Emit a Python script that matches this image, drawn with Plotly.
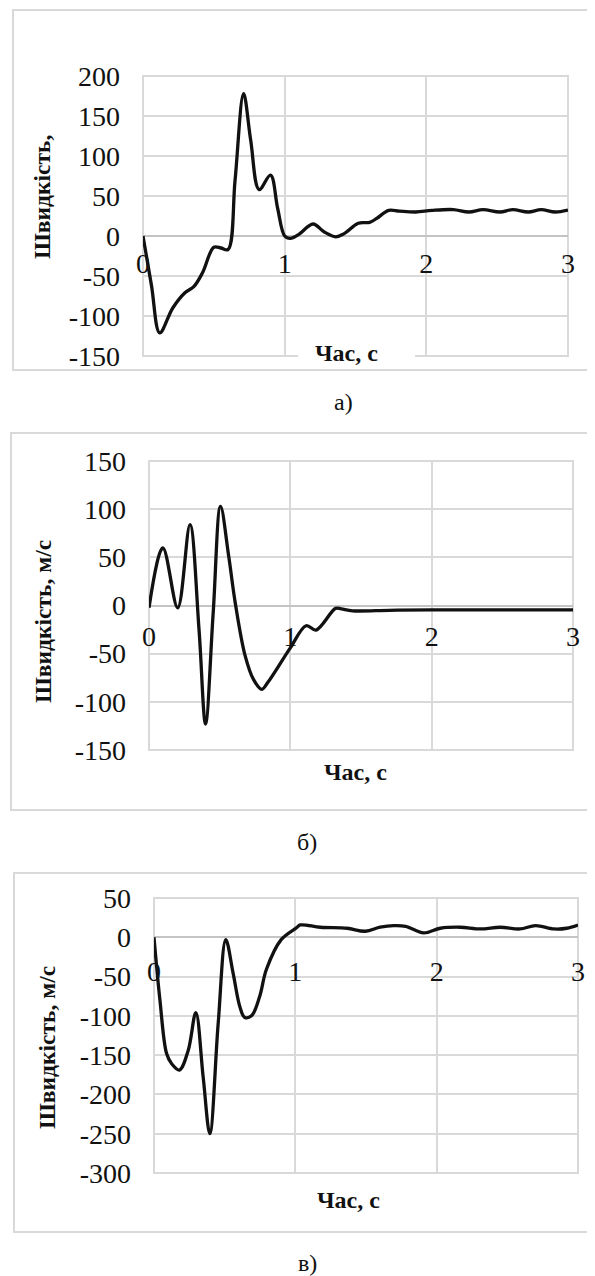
import plotly.graph_objects as go

# The page body adds an 8 px margin, so the figure is sized and placed to fit the window.
W0, H0 = 595, 1276
OFF = 8
W, H = W0 - OFF, H0 - OFF

# ---------------- data ----------------
# Panel а)
t_a = [0.00, 0.06, 0.118, 0.21, 0.296, 0.36, 0.42, 0.50, 0.55, 0.60, 0.65, 0.71, 0.76, 0.82,
       0.90, 0.95, 1.00, 1.04, 1.10, 1.20, 1.28, 1.36, 1.42, 1.52, 1.60, 1.65, 1.735, 1.81,
       1.925, 2.04, 2.19, 2.30, 2.40, 2.52, 2.61, 2.72, 2.81, 2.91, 3.00]
v_a = [0, -62, -121, -90, -71, -63, -46, -14, -15, -17, 70, 178, 120, 58,
       76, 35, 0, -3, 2, 15, 5, -1, 3, 16, 17, 22, 32, 31,
       30, 32, 33, 30, 33, 30, 33, 30, 33, 30, 32.5]

# Panel б)
t_b = [0.00, 0.098, 0.203, 0.29, 0.354, 0.40, 0.454, 0.506, 0.564, 0.61, 0.68, 0.74, 0.797,
       0.84, 1.00, 1.112, 1.182, 1.32, 1.36, 1.44, 1.70, 2.00, 2.50, 3.00]
v_b = [-2.4, 59.7, -2.4, 84, -25, -123, -8, 103, 51, 3, -52, -77, -87,
       -80, -44, -21, -25.5, -3, -3.5, -5.5, -5, -4.5, -4.5, -4.5]

# Panel в)
t_c = [0.00, 0.042, 0.089, 0.125, 0.18, 0.242, 0.296, 0.348, 0.395, 0.454, 0.508, 0.56, 0.607,
       0.642, 0.69, 0.748, 0.795, 0.90, 1.007, 1.035, 1.177, 1.366, 1.495, 1.60, 1.696, 1.78,
       1.908, 2.026, 2.167, 2.31, 2.45, 2.59, 2.70, 2.83, 2.92, 3.00]
v_c = [0, -80, -148, -161, -169, -144, -96, -178, -250, -110, -3, -46, -88,
       -102, -100, -75, -41, -3, 12, 15.7, 12.8, 11.5, 7.7, 12.8, 14.9, 14,
       5.5, 11.5, 12.8, 10.6, 12.8, 10.6, 14.9, 10.6, 11.5, 15.7]

x_ticks = [0, 1, 2, 3]
y_ticks_a = [-150, -100, -50, 0, 50, 100, 150, 200]
y_ticks_b = [-150, -100, -50, 0, 50, 100, 150]
y_ticks_c = [-300, -250, -200, -150, -100, -50, 0, 50]

x_title = "Час, с"
y_titles = ["Швидкість,", "Швидкість, м/с", "Швидкість, м/с"]
captions = ["а)", "б)", "в)"]

# ---------------- layout helpers (window pixels -> paper) ----------------
def px(x):
    return (x - OFF) / W

def py(y):
    return 1 - (y - OFF) / H

SERIF = "Liberation Serif, Times New Roman, serif"
GRID = "#d9d9d9"

panels = [
    dict(t=t_a, v=v_a, yt=y_ticks_a, box=(143, 568, 76, 356), frame=(13, 10, 370),
         xt=(346, 353), yti=(42, 197), cap=(343, 402), cover=(298, 415, 337, 368), xstand=8),
    dict(t=t_b, v=v_b, yt=y_ticks_b, box=(149, 573, 461, 750), frame=(11, 433, 810),
         xt=(355, 772), yti=(43, 622), cap=(307, 842), cover=None, xstand=11),
    dict(t=t_c, v=v_c, yt=y_ticks_c, box=(154, 578, 898, 1173), frame=(14, 873, 1232),
         xt=(348, 1200), yti=(47, 1048), cap=(307, 1263), cover=None, xstand=15),
]

fig = go.Figure()
shapes = []
annotations = []

for i, p in enumerate(panels, start=1):
    sfx = "" if i == 1 else str(i)
    xl, xr, yt, yb = p["box"]
    ymin, ymax = min(p["yt"]), max(p["yt"])
    zero_px = yt + (ymax - 0) / (ymax - ymin) * (yb - yt)

    fig.add_trace(go.Scatter(
        x=p["t"], y=p["v"], mode="lines",
        line=dict(color="#111111", width=3.3, shape="spline", smoothing=1.0),
        xaxis="x" + sfx, yaxis="y" + sfx, showlegend=False, hoverinfo="skip"))

    fig.layout["xaxis" + sfx] = dict(
        domain=[px(xl), px(xr)], range=[0, 3], tickvals=x_ticks,
        ticktext=[str(v) for v in x_ticks],
        anchor="free", position=py(zero_px), showline=False, ticks="",
        showgrid=True, gridcolor=GRID, gridwidth=2, zeroline=False, automargin=False,
        tickfont=dict(family=SERIF, size=28, color="#111111"),
        ticklabelstandoff=p["xstand"], fixedrange=True)
    fig.layout["yaxis" + sfx] = dict(
        domain=[py(yb), py(yt)], range=[ymin, ymax], tickvals=p["yt"],
        ticktext=[str(v) for v in p["yt"]],
        anchor="x" + sfx, showline=False, ticks="", automargin=False,
        showgrid=True, gridcolor=GRID, gridwidth=2,
        zeroline=True, zerolinecolor="#c4c4c4", zerolinewidth=2,
        tickfont=dict(family=SERIF, size=28, color="#111111"),
        ticklabelstandoff=22, fixedrange=True)

    # plot-area border (Excel shows edge gridlines all round)
    shapes.append(dict(type="rect", xref="x" + sfx + " domain", yref="y" + sfx + " domain",
                       x0=0, x1=1, y0=0, y1=1, line=dict(color=GRID, width=2),
                       fillcolor="rgba(0,0,0,0)", layer="below"))

    fl, ftop, fbot = p["frame"]
    shapes.append(dict(type="rect", xref="paper", yref="paper",
                       x0=px(fl), x1=1.05, y0=py(fbot), y1=py(ftop),
                       line=dict(color=GRID, width=2), fillcolor="rgba(0,0,0,0)",
                       layer="below"))
    if p["cover"]:
        cx0, cx1, cy0, cy1 = p["cover"]
        shapes.append(dict(type="rect", xref="paper", yref="paper",
                           x0=px(cx0), x1=px(cx1), y0=py(cy1), y1=py(cy0),
                           line=dict(width=0), fillcolor="white", layer="above"))

    annotations.append(dict(text="<b>" + x_title + "</b>", x=px(p["xt"][0]), y=py(p["xt"][1]),
                            xref="paper", yref="paper", showarrow=False,
                            xanchor="center", yanchor="middle",
                            font=dict(family=SERIF, size=24, color="#111111")))
    annotations.append(dict(text="<b>" + y_titles[i - 1] + "</b>", x=px(p["yti"][0]),
                            y=py(p["yti"][1]), xref="paper", yref="paper", showarrow=False,
                            textangle=-90, xanchor="center", yanchor="middle",
                            font=dict(family=SERIF, size=23.5, color="#111111")))
    annotations.append(dict(text=captions[i - 1], x=px(p["cap"][0]), y=py(p["cap"][1]),
                            xref="paper", yref="paper", showarrow=False,
                            xanchor="center", yanchor="middle",
                            font=dict(family=SERIF, size=24, color="#111111")))

fig.update_layout(
    width=W, height=H, margin=dict(l=0, r=0, t=0, b=0, autoexpand=False),
    paper_bgcolor="white", plot_bgcolor="white",
    shapes=shapes, annotations=annotations, showlegend=False)

fig.write_html("out.html", config={"displayModeBar": False})
